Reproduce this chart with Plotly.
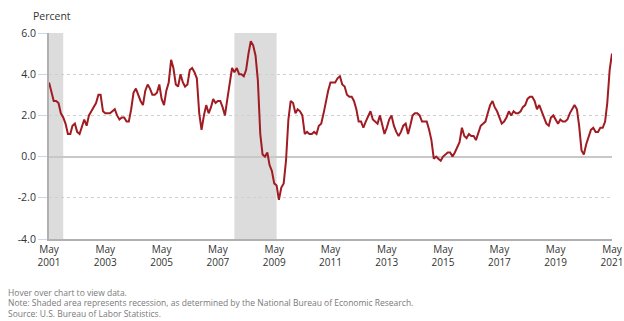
import pandas as pd
import plotly.graph_objects as go

# CPI-U, 12-month percent change, monthly from May 2001 to May 2021
start_month = "2001-05-01"
pct_2001 = [3.6, 3.2, 2.7, 2.7, 2.6, 2.1, 1.9, 1.6]  # May-Dec
pct_2002 = [1.1, 1.1, 1.5, 1.6, 1.2, 1.1, 1.5, 1.8, 1.5, 2.0, 2.2, 2.4]
pct_2003 = [2.6, 3.0, 3.0, 2.2, 2.1, 2.1, 2.1, 2.2, 2.3, 2.0, 1.8, 1.9]
pct_2004 = [1.9, 1.7, 1.7, 2.3, 3.1, 3.3, 3.0, 2.7, 2.5, 3.2, 3.5, 3.3]
pct_2005 = [3.0, 3.0, 3.1, 3.5, 2.8, 2.5, 3.2, 3.6, 4.7, 4.3, 3.5, 3.4]
pct_2006 = [4.0, 3.6, 3.4, 3.5, 4.2, 4.3, 4.1, 3.8, 2.1, 1.3, 2.0, 2.5]
pct_2007 = [2.1, 2.4, 2.8, 2.6, 2.7, 2.7, 2.4, 2.0, 2.8, 3.5, 4.3, 4.1]
pct_2008 = [4.3, 4.0, 4.0, 3.9, 4.2, 5.0, 5.6, 5.4, 4.9, 3.7, 1.1, 0.1]
pct_2009 = [0.0, 0.2, -0.4, -0.7, -1.3, -1.4, -2.1, -1.5, -1.3, -0.2, 1.8, 2.7]
pct_2010 = [2.6, 2.1, 2.3, 2.2, 2.0, 1.1, 1.2, 1.1, 1.1, 1.2, 1.1, 1.5]
pct_2011 = [1.6, 2.1, 2.7, 3.2, 3.6, 3.6, 3.6, 3.8, 3.9, 3.5, 3.4, 3.0]
pct_2012 = [2.9, 2.9, 2.7, 2.3, 1.7, 1.7, 1.4, 1.7, 2.0, 2.2, 1.8, 1.7]
pct_2013 = [1.6, 2.0, 1.5, 1.1, 1.4, 1.8, 2.0, 1.5, 1.2, 1.0, 1.2, 1.5]
pct_2014 = [1.6, 1.1, 1.5, 2.0, 2.1, 2.1, 2.0, 1.7, 1.7, 1.7, 1.3, 0.8]
pct_2015 = [-0.1, 0.0, -0.1, -0.2, 0.0, 0.1, 0.2, 0.2, 0.0, 0.2, 0.5, 0.7]
pct_2016 = [1.4, 1.0, 0.9, 1.1, 1.0, 1.0, 0.8, 1.1, 1.5, 1.6, 1.7, 2.1]
pct_2017 = [2.5, 2.7, 2.4, 2.2, 1.9, 1.6, 1.7, 1.9, 2.2, 2.0, 2.2, 2.1]
pct_2018 = [2.1, 2.2, 2.4, 2.5, 2.8, 2.9, 2.9, 2.7, 2.3, 2.5, 2.2, 1.9]
pct_2019 = [1.6, 1.5, 1.9, 2.0, 1.8, 1.6, 1.8, 1.7, 1.7, 1.8, 2.1, 2.3]
pct_2020 = [2.5, 2.3, 1.5, 0.3, 0.1, 0.6, 1.0, 1.3, 1.4, 1.2, 1.2, 1.4]
pct_2021 = [1.4, 1.7, 2.6, 4.2, 5.0]  # Jan-May

pct_change = (pct_2001 + pct_2002 + pct_2003 + pct_2004 + pct_2005 + pct_2006
              + pct_2007 + pct_2008 + pct_2009 + pct_2010 + pct_2011 + pct_2012
              + pct_2013 + pct_2014 + pct_2015 + pct_2016 + pct_2017 + pct_2018
              + pct_2019 + pct_2020 + pct_2021)
months = pd.date_range(start_month, periods=len(pct_change), freq="MS")

# NBER recessions
recession_starts = ["2001-03-01", "2007-12-01"]
recession_ends = ["2001-11-01", "2009-06-01"]

x_tick_dates = [f"{y}-05-01" for y in range(2001, 2022, 2)]
x_tick_text = [f"May<br>{y}" for y in range(2001, 2022, 2)]
y_tick_vals = [-4, -2, 0, 2, 4, 6]
y_tick_text = ["-4.0", "-2.0", "0.0", "2.0", "4.0", "6.0"]

notes = [
    "Hover over chart to view data.",
    "Note: Shaded area represents recession, as determined by the National Bureau of Economic Research.",
    "Source: U.S. Bureau of Labor Statistics.",
]

FONT = "Open Sans"
PLOT_W, PLOT_H = 563, 206
x_first, x_last = months[0], months[-1]
pad = pd.Timedelta(hours=12)

fig = go.Figure()
fig.add_trace(go.Scatter(
    x=months, y=pct_change, mode="lines",
    line=dict(color="#a01c22", width=2),
    hovertemplate="%{x|%b %Y}: %{y:.1f}%<extra></extra>",
))

for s, e in zip(recession_starts, recession_ends):
    s = max(pd.Timestamp(s), x_first)
    fig.add_shape(type="rect", xref="x", yref="paper", x0=s, x1=e, y0=0, y1=1,
                  fillcolor="#dcdcdc", line_width=0, layer="below")

fig.add_annotation(text="Percent", xref="paper", yref="paper",
                   x=-18 / PLOT_W, y=1 + 17 / PLOT_H,
                   xanchor="left", yanchor="middle", showarrow=False,
                   font=dict(family=FONT, size=10.5, color="#333333"))

for i, t in enumerate(notes):
    fig.add_annotation(text=t, xref="paper", yref="paper",
                       x=-43 / PLOT_W, y=-(53 + i * 10.5) / PLOT_H,
                       xanchor="left", yanchor="middle", showarrow=False,
                       font=dict(family=FONT, size=8.5, color="#7a7a7a"))

fig.update_layout(
    width=624, height=321,
    margin=dict(l=49, r=12, t=33, b=82),
    paper_bgcolor="white", plot_bgcolor="white",
    showlegend=False,
    font=dict(family=FONT, size=10, color="#333333"),
)
fig.update_xaxes(
    range=[x_first - pad, x_last + pad],
    tickvals=x_tick_dates, ticktext=x_tick_text,
    ticklabeloverflow="allow", automargin=False,
    showgrid=False, showline=True, linecolor="#b0b0b0", linewidth=2,
    ticks="", tickfont=dict(family=FONT, size=10, color="#333333"),
    zeroline=False,
)
fig.update_yaxes(
    range=[-4, 6], tickvals=y_tick_vals, ticktext=y_tick_text,
    automargin=False,
    showgrid=True, gridcolor="#cfcfcf", griddash="dot", gridwidth=1,
    zeroline=True, zerolinecolor="#c8c8c8", zerolinewidth=1.5,
    showline=True, linecolor="#b0b0b0", linewidth=2,
    ticks="outside", ticklen=9, tickcolor="#ccd6eb", tickwidth=1,
    tickfont=dict(family=FONT, size=10.5, color="#333333"),
)

fig.write_html("out.html")
